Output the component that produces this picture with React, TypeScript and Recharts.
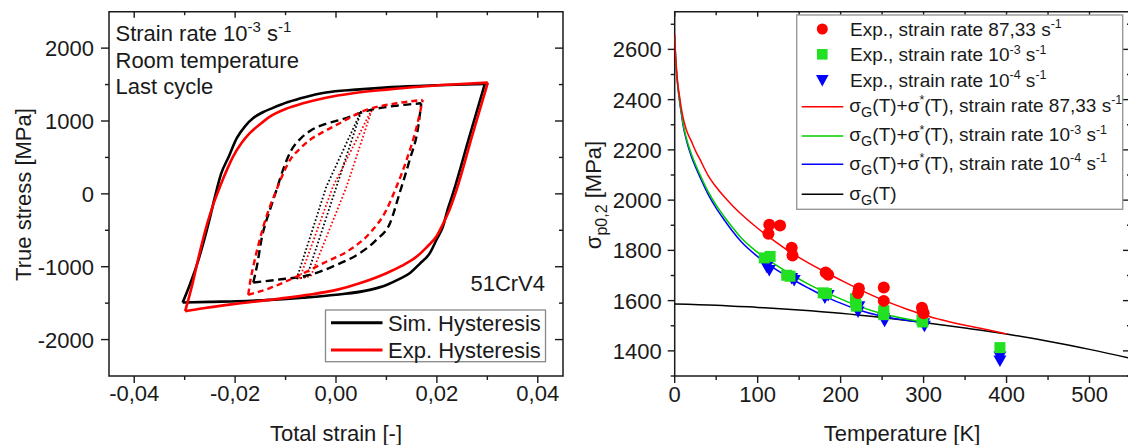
import React from 'react';
import { LineChart, Line, XAxis, YAxis, ReferenceArea, ComposedChart, Scatter } from 'recharts';

const FONT = '"Liberation Sans", Arial, Helvetica, sans-serif';
const INK = '#1a1a1a';

// ---- left panel: hysteresis loops, [strain, stress MPa] ----
const simOuterUp = [
  [-0.0304, -1492], [-0.029, -1250], [-0.0277, -1000], [-0.0262, -650], [-0.025, -330],
  [-0.024, -40], [-0.0228, 270], [-0.0212, 520], [-0.0197, 760], [-0.018, 930],
  [-0.0164, 1040], [-0.0145, 1120], [-0.0125, 1180], [-0.0095, 1260], [-0.006, 1330],
  [-0.002, 1390], [0.004, 1430], [0.011, 1465], [0.02, 1490], [0.0295, 1508],
];
const simOuterDown = [
  [-0.0304, -1492], [-0.025, -1482], [-0.0197, -1475], [-0.013, -1455], [-0.0065, -1425],
  [0.0, -1385], [0.0067, -1318], [0.01, -1250], [0.0125, -1170], [0.0146, -1090],
  [0.0166, -960], [0.0186, -814], [0.02, -620], [0.0212, -449], [0.0222, -200],
  [0.0232, 9], [0.0263, 750], [0.0295, 1508],
];
const expOuterUp = [
  [-0.0299, -1610], [-0.0285, -1250], [-0.027, -800], [-0.0255, -400], [-0.0242, -120],
  [-0.023, 100], [-0.0215, 350], [-0.0204, 511], [-0.0188, 690], [-0.0171, 832],
  [-0.015, 960], [-0.0131, 1060], [-0.01, 1165], [-0.0065, 1243], [-0.002, 1320],
  [0.0034, 1381], [0.01, 1430], [0.0166, 1471], [0.023, 1500], [0.0301, 1526],
];
const expOuterDown = [
  [-0.0299, -1610], [-0.0263, -1569], [-0.02, -1510], [-0.0131, -1455], [-0.006, -1390],
  [0.0001, -1318], [0.005, -1220], [0.01, -1089], [0.013, -990], [0.016, -861],
  [0.018, -730], [0.0199, -586], [0.0213, -400], [0.0225, -220], [0.0239, 54],
  [0.027, 800], [0.0301, 1526],
];
const simMidUp = [
  [-0.0164, -1217], [-0.0157, -1000], [-0.0147, -600], [-0.0131, -220], [-0.0118, 54],
  [-0.0105, 330], [-0.009, 580], [-0.007, 760], [-0.005, 870], [-0.002, 960],
  [0.0011, 1020], [0.0069, 1152], [0.012, 1210], [0.0169, 1243],
];
const simMidDown = [
  [-0.0164, -1217], [-0.0118, -1180], [-0.0052, -1112], [0.0001, -975], [0.0047, -814],
  [0.008, -632], [0.0107, -403], [0.0126, 9], [0.0146, 466], [0.0163, 923], [0.0169, 1243],
];
const expMidUp = [
  [-0.0174, -1386], [-0.017, -1200], [-0.0164, -998], [-0.0144, -449], [-0.0118, 54],
  [-0.0091, 466], [-0.007, 630], [-0.0052, 740], [-0.0025, 850], [0.0001, 946],
  [0.006, 1152], [0.012, 1243], [0.0172, 1289],
];
const expMidDown = [
  [-0.0174, -1386], [-0.0131, -1294], [-0.0078, -1135], [-0.0025, -951], [0.0027, -769],
  [0.0067, -540], [0.01, -220], [0.012, 100], [0.014, 466], [0.016, 923], [0.0172, 1289],
];
const simInnerUp = [[-0.0078, -1165], [-0.0019, 100], [0.005, 1135]];
const simInnerDown = [[-0.0078, -1165], [-0.0058, -1140], [0.0001, 100], [0.005, 1135]];
const expInnerUp = [[-0.0072, -1160], [-0.0006, 100], [0.0072, 1172]];
const expInnerDown = [[-0.0072, -1160], [-0.005, -1130], [0.0021, 100], [0.0072, 1172]];

const strainTicks = [-0.04, -0.03, -0.02, -0.01, 0, 0.01, 0.02, 0.03, 0.04];
const stressTicks = [-2000, -1500, -1000, -500, 0, 500, 1000, 1500, 2000];

// ---- right panel: yield strength vs temperature ----
const expRate87 = [
  { T: 114, s: 1902 }, { T: 127, s: 1899 }, { T: 113, s: 1866 }, { T: 141, s: 1810 },
  { T: 142, s: 1780 }, { T: 182, s: 1712 }, { T: 185, s: 1703 }, { T: 222, s: 1648 },
  { T: 221, s: 1630 }, { T: 252, s: 1652 }, { T: 252, s: 1599 }, { T: 298, s: 1572 },
  { T: 299, s: 1558 }, { T: 300, s: 1550 },
];
const expRate3 = [
  { T: 108, s: 1770 }, { T: 115, s: 1776 }, { T: 135, s: 1701 }, { T: 139, s: 1697 },
  { T: 179, s: 1631 }, { T: 183, s: 1628 }, { T: 218, s: 1608 }, { T: 218, s: 1592 },
  { T: 219, s: 1578 }, { T: 252, s: 1560 }, { T: 252, s: 1544 }, { T: 298, s: 1523 },
  { T: 299, s: 1515 }, { T: 392, s: 1413 },
];
const expRate4 = [
  { T: 111, s: 1735 }, { T: 114, s: 1722 }, { T: 141, s: 1690 }, { T: 144, s: 1682 },
  { T: 185, s: 1622 }, { T: 181, s: 1612 }, { T: 222, s: 1578 }, { T: 221, s: 1557 },
  { T: 252, s: 1530 }, { T: 253, s: 1520 }, { T: 300, s: 1510 }, { T: 301, s: 1500 },
  { T: 392, s: 1378 }, { T: 392, s: 1362 },
];

const fitT = [0, 1, 2, 4, 6, 8, 10, 14, 20, 26, 30, 40, 50, 60, 70, 80, 100, 120, 140, 160, 180, 200, 220, 250, 280, 300, 320, 350, 380, 400];
const fitRate87 = [2660, 2580, 2530, 2455, 2410, 2365, 2330, 2280, 2235, 2190, 2165, 2100, 2052, 2012, 1977, 1945, 1888, 1838, 1792, 1752, 1716, 1682, 1649, 1604, 1566, 1543, 1525, 1502, 1482, 1467];
const fitRate3 = [2650, 2572, 2518, 2450, 2395, 2350, 2307, 2248, 2185, 2135, 2105, 2036, 1980, 1933, 1890, 1850, 1792, 1746, 1705, 1668, 1636, 1607, 1580, 1548, 1527, 1514];
const fitRate4 = [2650, 2570, 2515, 2445, 2390, 2345, 2300, 2240, 2175, 2125, 2095, 2025, 1968, 1920, 1875, 1835, 1775, 1728, 1688, 1652, 1618, 1590, 1565, 1538, 1522, 1512];
const athermT = [0, 50, 100, 150, 200, 250, 300, 350, 400, 450, 500, 550];
const athermS = [1587, 1582, 1573, 1563, 1550, 1533, 1513, 1491, 1467, 1438, 1406, 1370];

const tempTicks = [0, 50, 100, 150, 200, 250, 300, 350, 400, 450, 500];
const sigmaTicks = [1300, 1400, 1500, 1600, 1700, 1800, 1900, 2000, 2100, 2200, 2300, 2400, 2500, 2600, 2700];

const loop = (pts: number[][]) => pts.map(([x, y]) => ({ x, y }));
const fit = (vals: number[], ts: number[]) => vals.map((s, i) => ({ T: ts[i], s }));

const L_TOP = 11.7;
const L_RIGHT = 563;
const R_TOP = 11.7;
const R_RIGHT_LOCAL = 561; // 1131 - 570

const fmtStrain = (v: number) => v.toFixed(2).replace('.', ',');

function StrainTick({ x, y, payload }: any) {
  const v = payload.value;
  const major = Math.abs(Math.round(v * 50) - v * 50) < 1e-6;
  const len = major ? 7 : 4;
  return (
    <g>
      <line x1={x} x2={x} y1={y} y2={y + len} stroke={INK} strokeWidth={1.4} />
      <line x1={x} x2={x} y1={L_TOP} y2={L_TOP + (major ? 6 : 3.5)} stroke={INK} strokeWidth={1.4} />
      {major && (
        <text x={x} y={y + 25} textAnchor="middle" fontSize={22} fontFamily={FONT} fill={INK}>
          {fmtStrain(v)}
        </text>
      )}
    </g>
  );
}

function StressTick({ x, y, payload }: any) {
  const v = payload.value;
  const major = v % 1000 === 0;
  const len = major ? 8 : 4;
  return (
    <g>
      <line x1={x - len} x2={x} y1={y} y2={y} stroke={INK} strokeWidth={1.4} />
      <line x1={L_RIGHT - len} x2={L_RIGHT} y1={y} y2={y} stroke={INK} strokeWidth={1.4} />
      {major && (
        <text x={x - 15} y={y + 8} textAnchor="end" fontSize={22} fontFamily={FONT} fill={INK}>
          {v}
        </text>
      )}
    </g>
  );
}

function TempTick({ x, y, payload }: any) {
  const v = payload.value;
  const major = v % 100 === 0;
  const len = major ? 7 : 4;
  return (
    <g>
      <line x1={x} x2={x} y1={y} y2={y + len} stroke={INK} strokeWidth={1.4} />
      <line x1={x} x2={x} y1={R_TOP} y2={R_TOP + (major ? 5 : 3.5)} stroke={INK} strokeWidth={1.4} />
      {major && (
        <text x={x} y={y + 26} textAnchor="middle" fontSize={22} fontFamily={FONT} fill={INK}>
          {v}
        </text>
      )}
    </g>
  );
}

function SigmaTick({ x, y, payload }: any) {
  const v = payload.value;
  const major = (v - 1400) % 200 === 0;
  const len = major ? 7 : 4;
  return (
    <g>
      <line x1={x - len} x2={x} y1={y} y2={y} stroke={INK} strokeWidth={1.4} />
      <line x1={R_RIGHT_LOCAL - (major ? 8 : 4)} x2={R_RIGHT_LOCAL} y1={y} y2={y} stroke={INK} strokeWidth={1.4} />
      {major && (
        <text x={x - 13} y={y + 8} textAnchor="end" fontSize={22} fontFamily={FONT} fill={INK}>
          {v}
        </text>
      )}
    </g>
  );
}

const circleShape = (p: any) => <circle cx={p.cx} cy={p.cy} r={6} fill="#ff0000" />;
const squareShape = (p: any) => <rect x={p.cx - 5.5} y={p.cy - 5.5} width={11} height={11} fill="#22e022" />;
const triShape = (p: any) => (
  <path d={`M${p.cx - 6.5},${p.cy - 5}L${p.cx + 6.5},${p.cy - 5}L${p.cx},${p.cy + 6.5}Z`} fill="#0000ff" />
);

export default function App() {
  const loopLine = (pts: number[][], color: string, width: number, dash?: string, kind: any = 'monotone') => (
    <Line
      data={loop(pts)}
      dataKey="y"
      type={kind}
      stroke={color}
      strokeWidth={width}
      strokeDasharray={dash}
      dot={false}
      activeDot={false}
      isAnimationActive={false}
    />
  );

  return (
    <div style={{ position: 'fixed', left: 0, top: 0, width: 1128, height: 445, overflow: 'hidden', background: '#fff' }}>
      <div style={{ position: 'absolute', left: 0, top: 0 }}>
        <LineChart width={570} height={445} margin={{ top: L_TOP, right: 7, bottom: 0, left: 0 }}>
          <XAxis
            dataKey="x"
            type="number"
            domain={[-0.045, 0.045]}
            allowDataOverflow
            ticks={strainTicks}
            interval={0}
            tickSize={0}
            tickMargin={0}
            axisLine={false}
            tick={<StrainTick />}
            height={69}
          />
          <YAxis
            dataKey="y"
            type="number"
            domain={[-2500, 2500]}
            allowDataOverflow
            ticks={stressTicks}
            interval={0}
            tickSize={0}
            tickMargin={0}
            axisLine={false}
            tick={<StressTick />}
            width={109}
          />
          <ReferenceArea x1={-0.045} x2={0.045} y1={-2500} y2={2500} fill="none" stroke={INK} strokeWidth={1.5} />
          {loopLine(simInnerUp, '#000', 1.8, '1.6 2.2', 'linear')}
          {loopLine(simInnerDown, '#000', 1.8, '1.6 2.2', 'linear')}
          {loopLine(expInnerUp, '#ff0000', 1.8, '1.6 2.2', 'linear')}
          {loopLine(expInnerDown, '#ff0000', 1.8, '1.6 2.2', 'linear')}
          {loopLine(simMidUp, '#000', 2.4, '8 4.5')}
          {loopLine(simMidDown, '#000', 2.4, '8 4.5')}
          {loopLine(expMidUp, '#ff0000', 2.4, '6 4')}
          {loopLine(expMidDown, '#ff0000', 2.4, '6 4')}
          {loopLine(simOuterUp, '#000', 2.6)}
          {loopLine(simOuterDown, '#000', 2.6)}
          {loopLine(expOuterUp, '#ff0000', 2.6)}
          {loopLine(expOuterDown, '#ff0000', 2.6)}
        </LineChart>
      </div>

      <div style={{ position: 'absolute', left: 570, top: 0 }}>
        <ComposedChart width={570} height={445} margin={{ top: R_TOP, right: 9, bottom: 0, left: 0 }}>
          <XAxis
            dataKey="T"
            type="number"
            domain={[0, 550]}
            allowDataOverflow
            ticks={tempTicks}
            interval={0}
            tickSize={0}
            tickMargin={0}
            axisLine={false}
            tick={<TempTick />}
            height={69}
          />
          <YAxis
            dataKey="s"
            type="number"
            domain={[1300, 2750]}
            allowDataOverflow
            ticks={sigmaTicks}
            interval={0}
            tickSize={0}
            tickMargin={0}
            axisLine={false}
            tick={<SigmaTick />}
            width={104.7}
          />
          <ReferenceArea x1={0} x2={550} y1={1300} y2={2750} fill="none" stroke={INK} strokeWidth={1.5} />
          <Line data={fit(athermS, athermT)} dataKey="s" type="monotone" stroke="#000" strokeWidth={1.5} dot={false} activeDot={false} isAnimationActive={false} />
          <Line data={fit(fitRate4, fitT)} dataKey="s" type="monotone" stroke="#0000ff" strokeWidth={1.5} dot={false} activeDot={false} isAnimationActive={false} />
          <Line data={fit(fitRate3, fitT)} dataKey="s" type="monotone" stroke="#00cc00" strokeWidth={1.5} dot={false} activeDot={false} isAnimationActive={false} />
          <Line data={fit(fitRate87, fitT)} dataKey="s" type="monotone" stroke="#ff0000" strokeWidth={1.5} dot={false} activeDot={false} isAnimationActive={false} />
          <Scatter data={expRate4} dataKey="s" shape={triShape} isAnimationActive={false} />
          <Scatter data={expRate3} dataKey="s" shape={squareShape} isAnimationActive={false} />
          <Scatter data={expRate87} dataKey="s" shape={circleShape} isAnimationActive={false} />
        </ComposedChart>
      </div>

      <svg width={1128} height={445} style={{ position: 'absolute', left: 0, top: 0, pointerEvents: 'none' }} fontFamily={FONT} fill={INK}>
        {/* left panel annotations */}
        <text x={115.5} y={40.7} fontSize={22}>
          Strain rate 10<tspan dy={-9} fontSize={15}>-3</tspan>
          <tspan dy={9}> s</tspan>
          <tspan dy={-9} fontSize={15}>-1</tspan>
        </text>
        <text x={115.5} y={67.5} fontSize={22}>Room temperature</text>
        <text x={115.5} y={94} fontSize={22}>Last cycle</text>
        <text x={545} y={291} fontSize={22} textAnchor="end">51CrV4</text>

        <rect x={325.5} y={310} width={220} height={51.7} fill="#fff" stroke="#888" strokeWidth={1.3} />
        <line x1={331} x2={382.5} y1={322.7} y2={322.7} stroke="#000" strokeWidth={3} />
        <text x={388} y={330.6} fontSize={22}>Sim. Hysteresis</text>
        <line x1={331} x2={382.5} y1={350} y2={350} stroke="#ff0000" strokeWidth={3} />
        <text x={388} y={358} fontSize={22}>Exp. Hysteresis</text>

        <text transform="translate(30.5,194.5) rotate(-90)" textAnchor="middle" fontSize={22}>True stress [MPa]</text>
        <text x={336} y={441} textAnchor="middle" fontSize={22}>Total strain [-]</text>

        {/* right panel annotations */}
        <text transform="translate(601,195) rotate(-90)" textAnchor="middle" fontSize={22}>
          σ<tspan dy={6} fontSize={16}>p0,2</tspan>
          <tspan dy={-6}> [MPa]</tspan>
        </text>
        <text x={902} y={441} textAnchor="middle" fontSize={22}>Temperature [K]</text>

        <rect x={796.7} y={15} width={326} height={194.3} fill="#fff" stroke="#999" strokeWidth={1.4} />
        <circle cx={822.3} cy={29} r={5.5} fill="#ff0000" />
        <rect x={817} y={49} width={10.6} height={10.6} fill="#22e022" />
        <path d="M816,75L828.6,75L822.3,86.5Z" fill="#0000ff" />
        <text x={850} y={35.5} fontSize={19}>
          Exp., strain rate 87,33 s<tspan dy={-7.5} fontSize={12.5}>-1</tspan>
        </text>
        <text x={850} y={61} fontSize={19}>
          Exp., strain rate 10<tspan dy={-7.5} fontSize={12.5}>-3</tspan>
          <tspan dy={7.5}> s</tspan>
          <tspan dy={-7.5} fontSize={12.5}>-1</tspan>
        </text>
        <text x={850} y={86.5} fontSize={19}>
          Exp., strain rate 10<tspan dy={-7.5} fontSize={12.5}>-4</tspan>
          <tspan dy={7.5}> s</tspan>
          <tspan dy={-7.5} fontSize={12.5}>-1</tspan>
        </text>

        <line x1={801.7} x2={843.3} y1={106.7} y2={106.7} stroke="#ff0000" strokeWidth={1.5} />
        <line x1={801.7} x2={843.3} y1={136} y2={136} stroke="#00cc00" strokeWidth={1.5} />
        <line x1={801.7} x2={843.3} y1={164.3} y2={164.3} stroke="#0000ff" strokeWidth={1.5} />
        <line x1={801.7} x2={843.3} y1={194.3} y2={194.3} stroke="#000" strokeWidth={1.5} />

        {[
          { y: 111.5, rate: '87,33', exp: '' },
          { y: 141, rate: '10', exp: '-3' },
          { y: 169.5, rate: '10', exp: '-4' },
        ].map((r) => (
          <text key={r.y} x={849.3} y={r.y} fontSize={19}>
            σ<tspan dy={5} fontSize={14.5}>G</tspan>
            <tspan dy={-5}>(T)+σ</tspan>
            <tspan dy={-7.5} fontSize={12.5}>*</tspan>
            <tspan dy={7.5}>(T), strain rate {r.rate}</tspan>
            {r.exp && <tspan dy={-7.5} fontSize={12.5}>{r.exp}</tspan>}
            <tspan dy={r.exp ? 7.5 : 0}> s</tspan>
            <tspan dy={-7.5} fontSize={12.5}>-1</tspan>
          </text>
        ))}
        <text x={849.3} y={199.5} fontSize={19}>
          σ<tspan dy={5} fontSize={14.5}>G</tspan>
          <tspan dy={-5}>(T)</tspan>
        </text>
      </svg>
    </div>
  );
}
